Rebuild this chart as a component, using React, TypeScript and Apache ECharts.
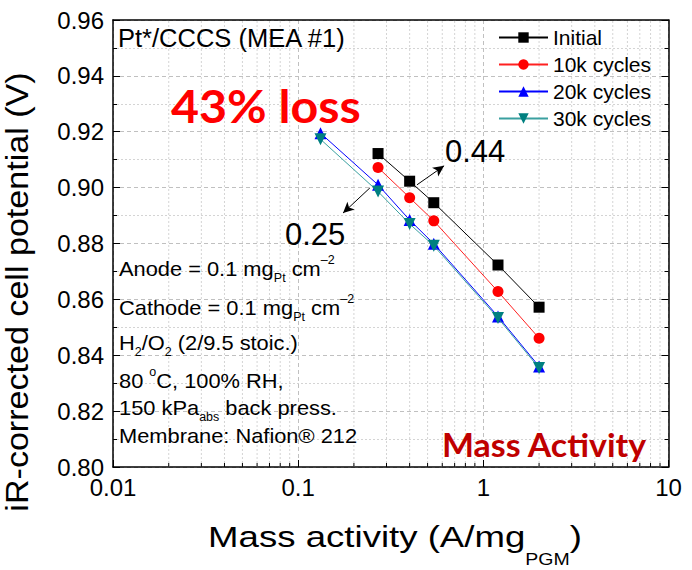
import React, { useEffect, useRef } from "react";
import * as echarts from "echarts";

// ---- data ----
const seriesNames = ["Initial", "10k cycles", "20k cycles", "30k cycles"];
const massActivityInitial = [0.27, 0.4, 0.54, 1.2, 2.0];
const massActivity10k = [0.27, 0.4, 0.54, 1.2, 2.0];
const massActivity20k = [0.132, 0.27, 0.4, 0.54, 1.2, 2.0];
const massActivity30k = [0.132, 0.27, 0.4, 0.54, 1.2, 2.0];
const potentialInitial = [0.9122, 0.9023, 0.8946, 0.8723, 0.8572];
const potential10k = [0.9072, 0.8964, 0.8881, 0.8628, 0.8461];
const potential20k = [0.9195, 0.901, 0.8884, 0.8799, 0.8539, 0.836];
const potential30k = [0.9173, 0.8986, 0.887, 0.8792, 0.8533, 0.8354];

const xTickLabels = ["0.01", "0.1", "1", "10"];
const xMinorTicks = [
  0.02, 0.03, 0.04, 0.05, 0.06, 0.07, 0.08, 0.09,
  0.2, 0.3, 0.4, 0.5, 0.6, 0.7, 0.8, 0.9,
  2, 3, 4, 5, 6, 7, 8, 9,
];
const yMin = 0.8;
const yMax = 0.96;
const yInterval = 0.02;

// arrow annotations (data coordinates): [from, to]
const arrow044 = [[0.438, 0.901], [0.614, 0.9078]];
const arrow025 = [[0.244, 0.8999], [0.1747, 0.8909]];

const FONT = "'Liberation Sans', Arial, sans-serif";

const zip = (xs: number[], ys: number[]) => xs.map((x, i) => [x, ys[i]]);

export default function App() {
  const ref = useRef<HTMLDivElement>(null);
  useEffect(() => {
    if (!ref.current) return;
    const chart = echarts.init(ref.current, undefined, { renderer: "svg" });

    const subStyle = { fontSize: 12, fontFamily: FONT, fill: "#000", verticalAlign: "bottom", lineHeight: 12 };
    const supStyle = { fontSize: 12, fontFamily: FONT, fill: "#000", verticalAlign: "top", lineHeight: 12 };
    const noteText = (txt: string, y: number) => ({
      type: "text",
      x: 119,
      y,
      scaleX: 1.04,
      z: 50,
      style: {
        text: txt,
        fontSize: 21,
        fontFamily: FONT,
        fill: "#000",
        align: "left",
        verticalAlign: "middle",
        lineHeight: 30,
        rich: { sub: subStyle, sup: supStyle },
      },
    });

    const option: any = {
      animation: false,
      backgroundColor: "#fff",
      grid: { left: 113, top: 20, right: 23.5, bottom: 103, containLabel: false },
      legend: {
        data: seriesNames,
        orient: "vertical",
        left: 498,
        top: 27,
        padding: 0,
        itemWidth: 49,
        itemHeight: 13,
        itemGap: 6,
        textStyle: { fontSize: 21, fontFamily: FONT, color: "#000", lineHeight: 21 },
      },
      xAxis: [
        {
          type: "log",
          logBase: 10,
          min: 0.01,
          max: 10,
          axisLine: { show: true, lineStyle: { color: "#000", width: 1.5 } },
          axisTick: { show: true, inside: true, length: 7, lineStyle: { color: "#000" } },
          axisLabel: {
            fontSize: 24,
            fontFamily: FONT,
            color: "#000",
            margin: 8,
            formatter: (_v: number, i: number) => xTickLabels[i] ?? "",
          },
          splitLine: { show: true, lineStyle: { color: "#c0c0c0", type: [4, 3], width: 1 } },
        },
        {
          type: "log",
          logBase: 10,
          min: 0.01,
          max: 10,
          position: "top",
          axisLine: { show: true, onZero: false, lineStyle: { color: "#000", width: 1.5 } },
          axisTick: { show: false },
          axisLabel: { show: false },
          splitLine: { show: false },
        },
      ],
      yAxis: [
        {
          type: "value",
          min: yMin,
          max: yMax,
          interval: yInterval,
          axisLine: { show: true, lineStyle: { color: "#000", width: 1.5 } },
          axisTick: { show: true, inside: true, length: 7, lineStyle: { color: "#000" } },
          minorTick: { show: true, splitNumber: 2, length: 4, lineStyle: { color: "#000" } },
          axisLabel: {
            fontSize: 24,
            fontFamily: FONT,
            color: "#000",
            margin: 9,
            formatter: (v: number) => v.toFixed(2),
          },
          splitLine: { show: true, lineStyle: { color: "#c0c0c0", type: [4, 3], width: 1 } },
          minorSplitLine: { show: true, lineStyle: { color: "#d4d4d4", type: [2, 2], width: 1 } },
        },
        {
          type: "value",
          min: yMin,
          max: yMax,
          interval: yInterval,
          position: "right",
          axisLine: { show: true, lineStyle: { color: "#000", width: 1.5 } },
          axisTick: { show: true, inside: true, length: 7, lineStyle: { color: "#000" } },
          minorTick: { show: true, splitNumber: 2, length: 4, lineStyle: { color: "#000" } },
          axisLabel: { show: false },
          splitLine: { show: false },
        },
      ],
      series: [
        {
          type: "custom",
          name: "minorGrid",
          silent: true,
          xAxisIndex: 0,
          yAxisIndex: 0,
          z: 1,
          data: xMinorTicks.map((v) => [v, yMin]),
          encode: { x: 0, y: 1 },
          renderItem: (_p: any, api: any) => {
            const v = api.value(0);
            const b = api.coord([v, yMin]);
            const t = api.coord([v, yMax]);
            return {
              type: "group",
              children: [
                {
                  type: "line",
                  shape: { x1: b[0], y1: b[1], x2: t[0], y2: t[1] },
                  style: { stroke: "#d4d4d4", lineWidth: 1, lineDash: [2, 2] },
                },
                {
                  type: "line",
                  shape: { x1: b[0], y1: b[1], x2: b[0], y2: b[1] - 4 },
                  style: { stroke: "#000", lineWidth: 1 },
                },
              ],
            };
          },
        },
        {
          name: "Initial",
          type: "line",
          data: zip(massActivityInitial, potentialInitial),
          symbol: "rect",
          symbolSize: 11,
          z: 5,
          itemStyle: { color: "#000" },
          lineStyle: { color: "#000", width: 1 },
          markLine: {
            silent: true,
            symbol: ["none", "arrow"],
            symbolSize: [8, 11],
            label: { show: false },
            lineStyle: { color: "#000", width: 1, type: "solid" },
            data: [
              [{ coord: arrow044[0] }, { coord: arrow044[1] }],
              [{ coord: arrow025[0] }, { coord: arrow025[1] }],
            ],
          },
        },
        {
          name: "10k cycles",
          type: "line",
          data: zip(massActivity10k, potential10k),
          symbol: "circle",
          symbolSize: 11,
          z: 5,
          itemStyle: { color: "#ff0000" },
          lineStyle: { color: "#ff2020", width: 1 },
        },
        {
          name: "20k cycles",
          type: "line",
          data: zip(massActivity20k, potential20k),
          symbol: "triangle",
          symbolSize: 12,
          z: 5,
          itemStyle: { color: "#0000ff" },
          lineStyle: { color: "#0000ff", width: 1 },
        },
        {
          name: "30k cycles",
          type: "line",
          data: zip(massActivity30k, potential30k),
          symbol: "triangle",
          symbolRotate: 180,
          symbolSize: 12,
          z: 6,
          itemStyle: { color: "#008080" },
          lineStyle: { color: "#3aa0a0", width: 1 },
        },
      ],
      graphic: [
        {
          type: "text",
          x: 118,
          y: 38,
          scaleX: 1.02,
          z: 50,
          style: { text: "Pt*/CCCS (MEA #1)", fontSize: 25, fontFamily: FONT, fill: "#000", align: "left", verticalAlign: "middle" },
        },
        {
          type: "text",
          x: 171,
          y: 106,
          scaleX: 1.075,
          z: 50,
          style: { text: "43% loss", fontSize: 45, fontWeight: "bold", fontFamily: "Lato, 'Open Sans', sans-serif", fill: "#ff0000", align: "left", verticalAlign: "middle" },
        },
        {
          type: "text",
          x: 442,
          y: 444,
          scaleX: 1.06,
          z: 50,
          style: { text: "Mass Activity", fontSize: 32, fontWeight: "bold", fontFamily: "Lato, 'Open Sans', sans-serif", fill: "#c00000", align: "left", verticalAlign: "middle" },
        },
        {
          type: "text",
          x: 445,
          y: 151,
          z: 50,
          style: { text: "0.44", fontSize: 31, fontFamily: FONT, fill: "#000", align: "left", verticalAlign: "middle" },
        },
        {
          type: "text",
          x: 285,
          y: 234,
          z: 50,
          style: { text: "0.25", fontSize: 31, fontFamily: FONT, fill: "#000", align: "left", verticalAlign: "middle" },
        },
        noteText("Anode = 0.1 mg{sub|Pt} cm{sup|–2}", 269),
        noteText("Cathode = 0.1 mg{sub|Pt} cm{sup|–2}", 308),
        noteText("H{sub|2}/O{sub|2} (2/9.5 stoic.)", 343),
        noteText("80 {sup|o}C, 100% RH,", 381),
        noteText("150 kPa{sub|abs} back press.", 408),
        noteText("Membrane: Nafion® 212", 436),
        {
          type: "text",
          x: 395,
          y: 537,
          scaleX: 1.22,
          z: 50,
          style: {
            text: "Mass activity (A/mg{sub|PGM})",
            fontSize: 30,
            fontFamily: FONT,
            fill: "#000",
            align: "center",
            verticalAlign: "middle",
            lineHeight: 62,
            rich: { sub: { fontSize: 16, fontFamily: FONT, fill: "#000", verticalAlign: "bottom", lineHeight: 16 } },
          },
        },
        {
          type: "text",
          x: 17,
          y: 292,
          rotation: Math.PI / 2,
          scaleX: 1.065,
          z: 50,
          style: {
            text: "iR-corrected cell potential (V)",
            fontSize: 32,
            fontFamily: FONT,
            fill: "#000",
            align: "center",
            verticalAlign: "middle",
          },
        },
      ],
    };
    chart.setOption(option);
    return () => chart.dispose();
  }, []);
  return <div ref={ref} style={{ position: "fixed", left: 0, top: 0, width: 692, height: 570 }} />;
}
